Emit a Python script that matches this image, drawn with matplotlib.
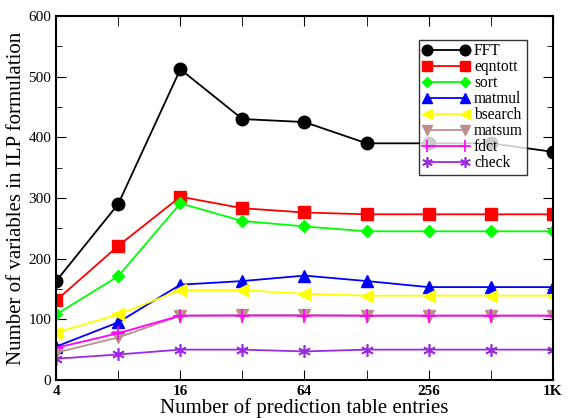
import numpy as np
import matplotlib.pyplot as plt
from matplotlib.ticker import FixedLocator, NullFormatter, MultipleLocator

plt.rcParams['font.family'] = ['Liberation Serif', 'DejaVu Serif']

entries = [4, 8, 16, 32, 64, 128, 256, 512, 1024]
fft = [163, 290, 512, 430, 425, 390, 390, 390, 376]
eqntott = [131, 221, 302, 283, 276, 273, 273, 273, 273]
sort = [108, 171, 291, 262, 253, 245, 245, 245, 245]
matmul = [55, 95, 157, 163, 172, 163, 153, 153, 153]
bsearch = [78, 108, 148, 148, 142, 139, 139, 139, 139]
matsum = [45, 70, 106, 107, 107, 106, 106, 106, 106]
fdct = [53, 77, 106, 106, 106, 106, 106, 106, 106]
check = [35, 42, 50, 50, 47, 50, 50, 50, 50]

series = [
    ('FFT', fft, 'black', 'o', 9),
    ('eqntott', eqntott, 'red', 's', 8),
    ('sort', sort, '#00ff00', 'D', 6),
    ('matmul', matmul, 'blue', '^', 9),
    ('bsearch', bsearch, 'yellow', '<', 9),
    ('matsum', matsum, '#bc8f8f', 'v', 9),
    ('fdct', fdct, 'magenta', '+', 10),
    ('check', check, '#9a2be2', '*', 9),
]

fig = plt.figure(figsize=(5.85, 4.18), dpi=100)
ax = fig.add_axes([0.096, 0.091, 0.849, 0.871])

for name, vals, color, marker, ms in series:
    if marker == '*':
        ax.plot(entries, vals, color=color, marker=(6, 2, 0), ms=ms, mew=1.2,
                lw=1.3, label=name)
    elif marker == '+':
        ax.plot(entries, vals, color=color, marker='+', ms=ms, mew=1.2,
                lw=1.3, label=name)
    else:
        ax.plot(entries, vals, color=color, marker=marker, ms=ms, mec=color,
                lw=1.3, label=name)

ax.set_xscale('log', base=2)
ax.set_xlim(4, 1024)
ax.set_ylim(0, 600)
ax.xaxis.set_major_locator(FixedLocator([4, 16, 64, 256, 1024]))
ax.xaxis.set_minor_locator(FixedLocator([8, 32, 128, 512]))
ax.xaxis.set_minor_formatter(NullFormatter())
ax.set_xticklabels(['4', '16', '64', '256', '1K'], fontweight='bold', fontsize=11)
ax.yaxis.set_major_locator(MultipleLocator(100))
ax.yaxis.set_minor_locator(MultipleLocator(50))
ax.tick_params(which='both', direction='in', top=True, right=True)
ax.tick_params(which='major', length=7, labelsize=11)
ax.tick_params(which='minor', length=4)
ax.tick_params(axis='x', which='minor', length=7)
for s in ax.spines.values():
    s.set_linewidth(1.5)

ax.set_xlabel('Number of prediction table entries', fontsize=15, labelpad=0)
ax.set_ylabel('Number of variables in ILP formulation', fontsize=15, labelpad=2)

leg = ax.legend(loc='upper left', bbox_to_anchor=(0.73, 0.935), fontsize=11.2,
                frameon=True, fancybox=False, edgecolor='black', markerscale=0.85,
                handlelength=3.0, numpoints=2, borderpad=0.25, labelspacing=0.0,
                handletextpad=0.3, borderaxespad=0)
leg.get_frame().set_linewidth(1.0)

fig.savefig('out.png', dpi=100)
